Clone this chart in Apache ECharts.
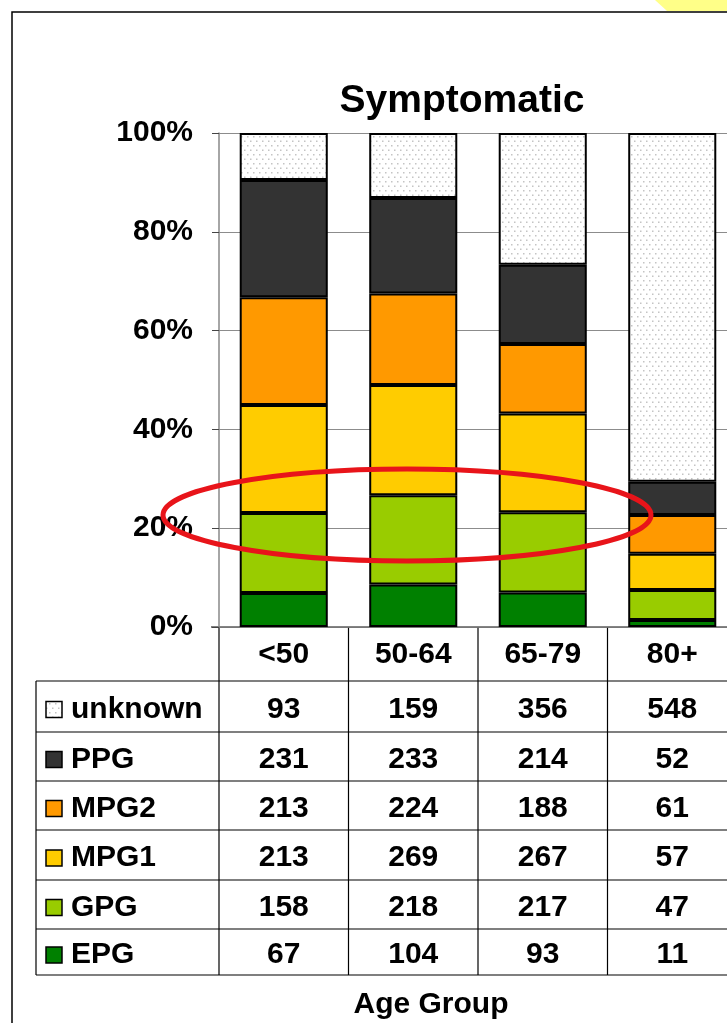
<!DOCTYPE html>
<html>
<head>
<meta charset="utf-8">
<script src="https://cdn.jsdelivr.net/npm/echarts@6/dist/echarts.min.js"></script>
<style>
  html, body { margin: 0; padding: 0; background: #fff; overflow: hidden; }
  #main { width: 760px; height: 1023px; }
</style>
</head>
<body>
<div id="main"></div>
<script>
// age groups and counts per group (table rows, top to bottom)
const categories = ["<50", "50-64", "65-79", "80+"];
const unknown = [93, 159, 356, 548];
const ppg = [231, 233, 214, 52];
const mpg2 = [213, 224, 188, 61];
const mpg1 = [213, 269, 267, 57];
const gpg = [158, 218, 217, 47];
const epg = [67, 104, 93, 11];
const yTicks = [0, 20, 40, 60, 80, 100];

const rows = [
  { name: "unknown", data: unknown, color: "dots" },
  { name: "PPG", data: ppg, color: "#333333" },
  { name: "MPG2", data: mpg2, color: "#ff9900" },
  { name: "MPG1", data: mpg1, color: "#ffcc00" },
  { name: "GPG", data: gpg, color: "#99cc00" },
  { name: "EPG", data: epg, color: "#008000" },
];

// dotted fill for "unknown"
const pat = document.createElement("canvas");
pat.width = 6;
pat.height = 9;
const pc = pat.getContext("2d");
pc.fillStyle = "#ffffff";
pc.fillRect(0, 0, 6, 9);
pc.fillStyle = "#c4c4c4";
pc.fillRect(1, 1, 1.5, 1.5);
pc.fillRect(4, 5.5, 1.5, 1.5);
const dotFill = { image: pat, repeat: "repeat" };

const totals = categories.map((c, i) =>
  rows.reduce((s, r) => s + r.data[i], 0)
);

const FONT = "'Liberation Sans', Arial, sans-serif";
const TXT = "bold 30px " + FONT;

let myChart = echarts.init(document.getElementById("main"));

// bars stacked bottom-up: EPG first
const series = rows
  .slice()
  .reverse()
  .map((r) => ({
    name: r.name,
    type: "bar",
    stack: "all",
    barWidth: "68%",
    data: r.data.map((v, i) => (v / totals[i]) * 100),
    itemStyle: {
      color: r.color === "dots" ? dotFill : r.color,
      borderColor: "#000",
      borderWidth: 2,
    },
    emphasis: { disabled: true },
  }));

myChart.setOption({
  animation: false,
  grid: { left: 219, top: 133, width: 518, height: 494 },
  xAxis: {
    type: "category",
    data: categories,
    axisLine: { lineStyle: { color: "#888", width: 1.5 } },
    axisTick: { show: false },
    axisLabel: {
      margin: 13,
      fontSize: 30,
      fontWeight: "bold",
      fontFamily: FONT,
      color: "#000",
      lineHeight: 30,
    },
  },
  yAxis: {
    type: "value",
    min: yTicks[0],
    max: yTicks[yTicks.length - 1],
    interval: 20,
    axisLine: { show: true, lineStyle: { color: "#888", width: 1.5 } },
    axisTick: { show: true, inside: false, length: 7, lineStyle: { color: "#444" } },
    splitLine: { lineStyle: { color: "#8c8c8c", width: 1.2 } },
    axisLabel: {
      formatter: "{value}%",
      margin: 26,
      fontSize: 30,
      fontWeight: "bold",
      fontFamily: FONT,
      color: "#000",
    },
  },
  series: series,
});

// table + decorations
const rowLines = [681, 732, 781, 830, 880, 929, 975];
const centers = categories.map((c) => myChart.convertToPixel({ xAxisIndex: 0 }, c));
const band = centers[1] - centers[0];
const colEdges = [centers[0] - band / 2].concat(centers.map((c) => c + band / 2));

const g = [];
g.push({
  type: "polygon",
  shape: { points: [[655, 0], [760, 0], [760, 11], [667, 11]] },
  style: { fill: "#ffff88" },
});
g.push({
  type: "polyline",
  shape: { points: [[12, 1023], [12, 12], [760, 12]] },
  style: { stroke: "#000", lineWidth: 1.5, fill: null },
});
// table top (under the axis) and vertical lines
g.push({ type: "line", shape: { x1: 211, y1: 627, x2: 760, y2: 627 }, style: { stroke: "#000", lineWidth: 1.2 } });
colEdges.forEach((x) => {
  g.push({ type: "line", shape: { x1: x, y1: 627, x2: x, y2: 975 }, style: { stroke: "#000", lineWidth: 1.2 } });
});
g.push({ type: "line", shape: { x1: 36, y1: 681, x2: 36, y2: 975 }, style: { stroke: "#000", lineWidth: 1.2 } });
rowLines.forEach((y) => {
  g.push({ type: "line", shape: { x1: 36, y1: y, x2: 760, y2: y }, style: { stroke: "#000", lineWidth: 1.2 } });
});
rows.forEach((r, k) => {
  const cy = (rowLines[k] + rowLines[k + 1]) / 2 + 3;
  g.push({
    type: "rect",
    shape: { x: 46, y: cy - 8, width: 16, height: 16 },
    style: { fill: r.color === "dots" ? dotFill : r.color, stroke: "#000", lineWidth: 1.5 },
  });
  g.push({
    type: "text",
    x: 71,
    y: cy,
    style: { text: r.name, font: TXT, fill: "#000", textAlign: "left", textVerticalAlign: "middle" },
  });
  r.data.forEach((v, i) => {
    g.push({
      type: "text",
      x: centers[i],
      y: cy,
      style: { text: String(v), font: TXT, fill: "#000", textAlign: "center", textVerticalAlign: "middle" },
    });
  });
});
g.push({
  type: "text",
  x: 462,
  y: 101,
  style: { text: "Symptomatic", font: "bold 39px " + FONT, fill: "#000", textAlign: "center", textVerticalAlign: "middle" },
});
g.push({
  type: "text",
  x: 431,
  y: 1005,
  style: { text: "Age Group", font: TXT, fill: "#000", textAlign: "center", textVerticalAlign: "middle" },
});
// red highlight ellipse
g.push({
  type: "ellipse",
  z: 100,
  shape: { cx: 407, cy: 515, rx: 244, ry: 46 },
  style: { fill: null, stroke: "#e8141a", lineWidth: 5 },
});

myChart.setOption({ graphic: g });
</script>
</body>
</html>
